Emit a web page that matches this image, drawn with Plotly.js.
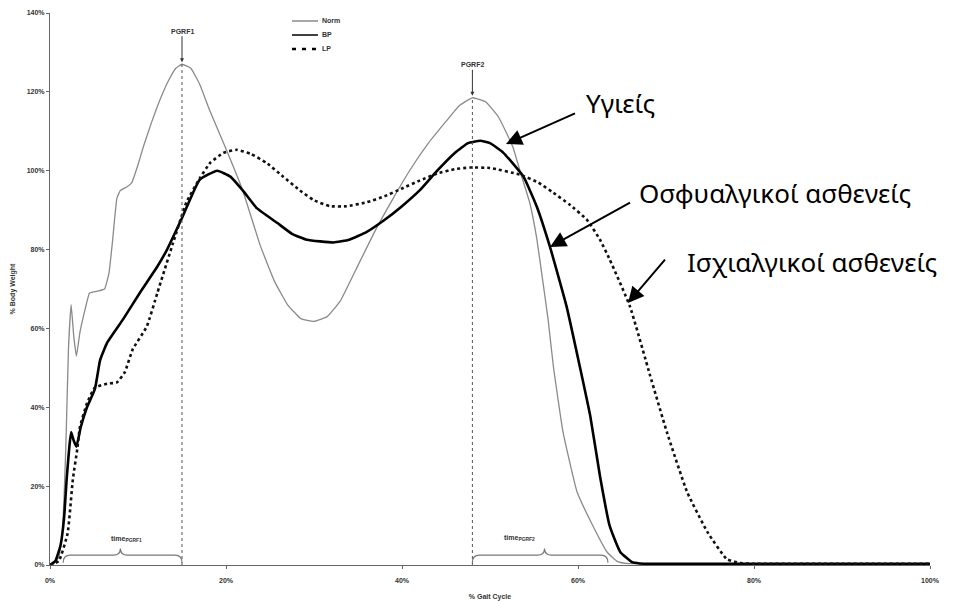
<!DOCTYPE html>
<html>
<head>
<meta charset="utf-8">
<script src="https://cdn.plot.ly/plotly-3.0.1.min.js"></script>
<style>
  html, body { margin: 0; padding: 0; background: #fff; }
  #chart { width: 965px; height: 601px; }
</style>
</head>
<body>
<div id="chart"></div>
<script>
// Vertical ground reaction force over the gait cycle (% body weight)
// Healthy subjects (Norm)
const normX = [0, 0.5, 1, 1.4, 1.8, 2.1, 2.4, 2.7, 3, 3.4, 3.9, 4.5, 5.5, 6.2, 6.7, 7.1, 7.6, 8, 8.8, 9.3, 10, 10.6, 11.5, 12.5, 13.5, 14.3, 15, 16, 17, 18.2, 20.1, 21.9, 23.9, 25.5, 27, 28.5, 30, 31.5, 33, 35, 37, 39, 41, 43, 45, 46.5, 48, 49.5, 51, 52.6, 53.4, 54.5, 55.3, 56, 56.6, 57.2, 58.3, 59.9, 61.7, 63.3, 64.4, 65.5, 70, 80, 90, 100];
const normY = [0, 0.5, 2, 8, 30, 55, 66, 58, 53, 59, 64, 69, 69.5, 70, 74, 82, 93, 95, 96, 97, 101.5, 106, 112, 118, 123, 126, 127, 126, 122, 115, 105, 95, 81, 72, 66, 62.5, 61.8, 63, 67, 76, 85, 93, 100.5, 107, 112.5, 116.5, 118.5, 117.5, 113.5, 106, 100, 92, 83, 72, 62.3, 50.4, 33.7, 18.5, 9.9, 3.3, 1, 0.4, 0.3, 0.3, 0.3, 0.3];

// Back-pain patients (BP)
const bpX = [0, 0.6, 1.2, 1.6, 1.9, 2.2, 2.4, 2.7, 3, 3.5, 4.2, 5.1, 5.7, 6.5, 8.3, 10.2, 12.2, 13.3, 15, 17, 19, 20.5, 21.9, 23.5, 25.8, 27.5, 29.2, 32.2, 34, 36, 38, 40, 42, 44, 46, 47.5, 48.9, 50, 51.5, 53.8, 55.3, 56.8, 58.7, 60.2, 61.4, 62.5, 63.6, 64.8, 66.1, 67, 70, 80, 90, 100];
const bpY = [0, 1, 5, 12, 22, 30, 33.7, 31.5, 30, 35, 40, 44.6, 52, 56.4, 62.3, 69, 75.7, 80, 88, 97.7, 100, 98.5, 95, 90.5, 86.8, 84, 82.5, 81.8, 82.5, 84.5, 87.5, 91, 95, 100, 104.5, 107, 107.6, 107, 104.6, 98.5, 91, 80.8, 65.6, 50.4, 37.7, 22.5, 9.9, 3.3, 0.8, 0.4, 0.3, 0.3, 0.3, 0.3];

// Leg-pain (sciatica) patients (LP)
const lpX = [0, 1, 2, 2.6, 3.1, 3.4, 4.2, 5.1, 6.5, 7.6, 8.5, 9.4, 11, 12.2, 14, 15.5, 17, 18.2, 19.7, 21.2, 22.8, 24.6, 26.5, 28.4, 30, 31.8, 33.7, 36, 38, 40, 42, 44, 46, 47.7, 50, 53.4, 55.5, 57.2, 59, 61, 62.5, 63.6, 65.9, 68.2, 70.1, 72.4, 74.7, 76.9, 78.4, 80, 90, 100];
const lpY = [0, 1, 8, 21.8, 29.4, 35, 41, 45, 46, 46.3, 48.9, 54.7, 60.5, 69, 81.8, 92, 98, 102, 104.5, 105.3, 104.3, 102, 98.5, 95, 92.5, 91, 91, 92, 93.5, 95.5, 97.5, 99.3, 100.4, 100.8, 100.7, 99, 97, 94.4, 91.5, 87.6, 82.5, 77.5, 65.6, 48, 33.7, 18.5, 8.4, 1.5, 0.5, 0.3, 0.3, 0.3];

// Peak ground reaction force markers (PGRF1, PGRF2)
const pgrfNames = ['PGRF1', 'PGRF2'];
const pgrfX = [15, 48];
const pgrfY = [127, 118.5];

// Tick values and labels
const xTicks = [0, 20, 40, 60, 80, 100];
const xTickLabels = ['0%', '20%', '40%', '60%', '80%', '100%'];
const yTicks = [0, 20, 40, 60, 80, 100, 120, 140];
const yTickLabels = ['0%', '20%', '40%', '60%', '80%', '100%', '120%', '140%'];

// Group labels placed next to the curves
const groupLabels = ['Υγιείς', 'Οσφυαλγικοί ασθενείς', 'Ισχιαλγικοί ασθενείς'];

// ---- plot geometry helpers (pixel -> paper / data) ----
const PL = 50, PR = 930, PT = 13, PB = 565;
const px = x => (x - PL) / (PR - PL);
const py = y => (PB - y) / (PB - PT);
const dx = x => (x - PL) / (PR - PL) * 100;
const dy = y => (PB - y) / (PB - PT) * 140;

const smallFont = { family: 'Liberation Sans, Arial, sans-serif', size: 7, color: '#333', weight: 'bold' };

const traces = [
  { x: normX, y: normY, mode: 'lines', name: 'Norm',
    line: { color: '#8a8a8a', width: 1.3, shape: 'spline', smoothing: 0.35 } },
  { x: bpX, y: bpY, mode: 'lines', name: 'BP',
    line: { color: '#000', width: 2.6, shape: 'spline', smoothing: 0.4 } },
  { x: lpX, y: lpY, mode: 'lines', name: 'LP',
    line: { color: '#111', width: 2.6, dash: 'dot', shape: 'spline', smoothing: 0.4 } }
];

// dotted verticals from the axis up to each peak
pgrfX.forEach((xv, i) => {
  traces.push({ x: [xv, xv], y: [0, pgrfY[i]], mode: 'lines', showlegend: false,
    hoverinfo: 'skip', line: { color: '#555', width: 1, dash: 'dot' } });
});

const annotations = [];

// PGRF labels with down arrows
pgrfX.forEach((xv, i) => {
  annotations.push({
    x: xv, y: pgrfY[i], xref: 'x', yref: 'y',
    text: pgrfNames[i], showarrow: true, arrowhead: 2, arrowsize: 0.8, arrowwidth: 1,
    arrowcolor: '#333', ax: 0, ay: -33, standoff: 2, font: smallFont
  });
});

// group labels and their arrows
const labelPos = [[584, 103], [637, 193], [685, 262]];
const arrowTail = [[578, 112], [633, 201], [668, 256]];
const arrowTip = [[506, 144], [550, 247], [628, 303]];
groupLabels.forEach((t, i) => {
  annotations.push({
    x: px(labelPos[i][0]), y: py(labelPos[i][1]), xref: 'paper', yref: 'paper',
    text: t, showarrow: false, xanchor: 'left', yanchor: 'middle',
    font: { family: 'Noto Sans, Open Sans, sans-serif', size: 26, color: '#000' }
  });
  annotations.push({
    x: dx(arrowTip[i][0]), y: dy(arrowTip[i][1]), xref: 'x', yref: 'y',
    ax: dx(arrowTail[i][0]), ay: dy(arrowTail[i][1]), axref: 'x', ayref: 'y',
    text: ' ', showarrow: true, arrowhead: 2, arrowsize: 1.6, arrowwidth: 2, arrowcolor: '#000'
  });
});

// time-to-peak brace labels
annotations.push({ x: 8.7, y: 6.6, xref: 'x', yref: 'y', text: 'time<sub>PGRF1</sub>',
  showarrow: false, font: smallFont });
annotations.push({ x: 53.4, y: 6.8, xref: 'x', yref: 'y', text: 'time<sub>PGRF2</sub>',
  showarrow: false, font: smallFont });

// legend entries
const legendRows = [
  { name: 'Norm', y: 21, line: { color: '#8a8a8a', width: 1.5 } },
  { name: 'BP', y: 35, line: { color: '#000', width: 1.5 } },
  { name: 'LP', y: 49, line: { color: '#000', width: 2.5, dash: '4px,6px' } }
];
const shapes = [];
legendRows.forEach(r => {
  shapes.push({ type: 'line', xref: 'paper', yref: 'paper',
    x0: px(292), x1: px(318), y0: py(r.y), y1: py(r.y), line: r.line });
  annotations.push({ x: px(320), y: py(r.y), xref: 'paper', yref: 'paper', text: r.name,
    showarrow: false, xanchor: 'left', yanchor: 'middle', font: smallFont });
});

// braces spanning the time to each force peak
function brace(x0, x1, xm, yb, yt) {
  const r = 0.8;
  return `M ${x0},0.6 Q ${x0},${yb} ${x0 + r},${yb} L ${xm - r},${yb} Q ${xm},${yb} ${xm},${yt} ` +
         `Q ${xm},${yb} ${xm + r},${yb} L ${x1 - r},${yb} Q ${x1},${yb} ${x1},0.6`;
}
shapes.push({ type: 'path', xref: 'x', yref: 'y', path: brace(1.5, 15, 8, 2.5, 4.2),
  line: { color: '#777', width: 1.2 } });
shapes.push({ type: 'path', xref: 'x', yref: 'y', path: brace(48, 63.4, 56.2, 2.5, 4.2),
  line: { color: '#777', width: 1.2 } });

const axisCommon = {
  showgrid: false, zeroline: false, showline: true, linecolor: '#666', linewidth: 1,
  ticks: 'outside', ticklen: 3, tickcolor: '#666', tickfont: smallFont, tickmode: 'array'
};

const layout = {
  width: 965, height: 601,
  margin: { l: PL, r: 965 - PR, t: PT, b: 601 - PB },
  paper_bgcolor: '#fff', plot_bgcolor: '#fff',
  showlegend: false,
  xaxis: Object.assign({}, axisCommon, {
    range: [0, 100], tickvals: xTicks, ticktext: xTickLabels, ticklabelstandoff: 6,
    title: { text: '% Gait Cycle', font: smallFont, standoff: 10 }
  }),
  yaxis: Object.assign({}, axisCommon, {
    range: [0, 140], tickvals: yTicks, ticktext: yTickLabels,
    title: { text: '% Body Weight', font: smallFont, standoff: 10 }
  }),
  annotations: annotations,
  shapes: shapes
};

Plotly.newPlot('chart', traces, layout, { displayModeBar: false, staticPlot: true });
</script>
</body>
</html>
